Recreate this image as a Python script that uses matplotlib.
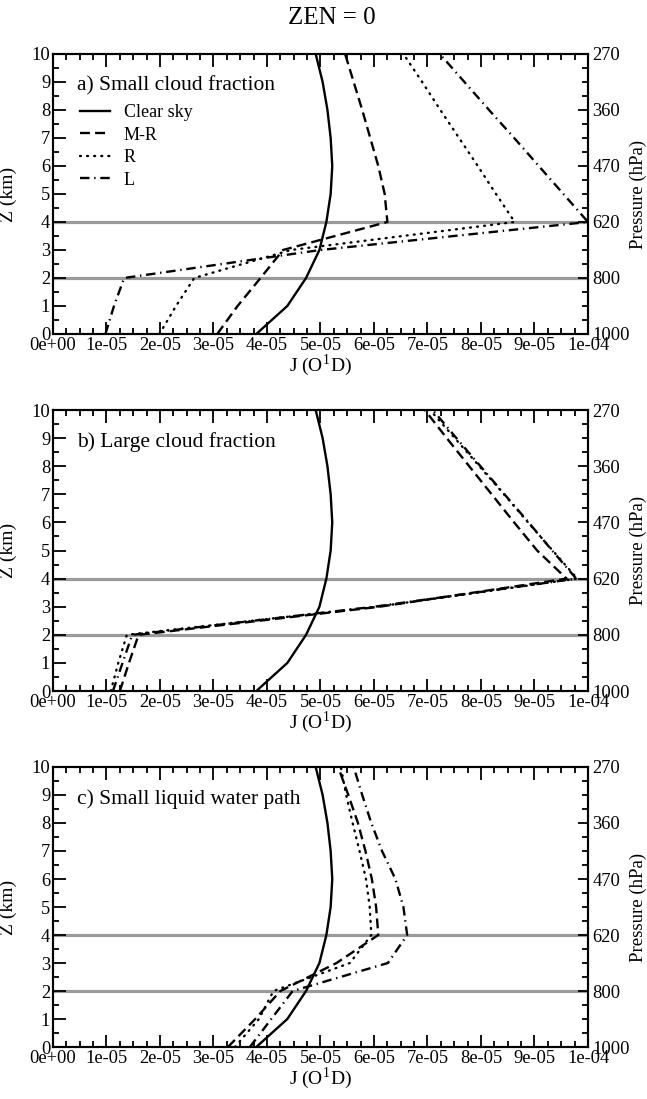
import numpy as np
import matplotlib.pyplot as plt
from matplotlib.ticker import MultipleLocator

plt.rcParams['font.family'] = ['Liberation Serif', 'DejaVu Serif']
plt.rcParams['mathtext.fontset'] = 'stix'

# altitude grid (km) and pressure labels for the right axis
z = [0, 1, 2, 3, 4, 5, 6, 7, 8, 9, 10]
p_z = [10, 8, 6, 4, 2, 0]
p_labels = ['270', '360', '470', '620', '800', '1000']
x_ticks = [0, 1e-5, 2e-5, 3e-5, 4e-5, 5e-5, 6e-5, 7e-5, 8e-5, 9e-5, 1e-4]
x_labels = ['0e+00', '1e-05', '2e-05', '3e-05', '4e-05', '5e-05',
            '6e-05', '7e-05', '8e-05', '9e-05', '1e-04']

# J(O1D) in units of 1e-5 s-1
clear = [3.80, 4.38, 4.73, 4.98, 5.11, 5.19, 5.22, 5.19, 5.13, 5.04, 4.91]

# a) small cloud fraction
a_mr = [3.07, 3.45, 3.88, 4.30, 6.25, 6.20, 6.08, 5.93, 5.78, 5.62, 5.46]
a_r = [1.99, 2.30, 2.64, 4.45, 8.63, 8.28, 7.94, 7.59, 7.24, 6.90, 6.55]
a_l = [0.98, 1.14, 1.33, 5.00, 10.0, 9.54, 9.08, 8.62, 8.15, 7.69, 7.23]

# b) large cloud fraction
b_mr = [1.25, 1.42, 1.60, 6.10, 9.60, 9.05, 8.62, 8.20, 7.78, 7.36, 6.95]
b_r = [1.08, 1.22, 1.38, 6.05, 9.80, 9.34, 8.88, 8.43, 7.97, 7.51, 7.05]
b_l = [1.12, 1.30, 1.48, 6.00, 9.78, 9.33, 8.89, 8.44, 7.99, 7.54, 7.10]

# c) small liquid water path
c_mr = [3.27, 3.78, 4.25, 5.30, 6.08, 6.04, 5.96, 5.84, 5.70, 5.52, 5.33]
c_r = [3.40, 3.85, 4.12, 5.55, 5.95, 5.92, 5.85, 5.73, 5.60, 5.48, 5.38]
c_l = [3.68, 4.08, 4.48, 6.26, 6.62, 6.55, 6.40, 6.15, 5.95, 5.78, 5.62]

panels = [
    ('a) Small cloud fraction', a_mr, a_r, a_l),
    ('b) Large cloud fraction', b_mr, b_r, b_l),
    ('c) Small liquid water path', c_mr, c_r, c_l),
]
# axes positions in figure fraction: (bottom, top)
rows = [(0.6961, 0.9509), (0.3712, 0.6269), (0.0473, 0.3021)]

fig = plt.figure(figsize=(6.47, 10.99), dpi=100)
fig.text(0.513, 1 - 18 / 1099, 'ZEN = 0', ha='center', va='center', size=18)

lw = 1.7
for i, (title, mr, r, l) in enumerate(panels):
    b, t = rows[i]
    ax = fig.add_axes([0.0819, b, 0.9088 - 0.0819, t - b])
    for zz in [2, 4]:
        ax.axhline(zz, color='#9a9a9a', lw=2.3, zorder=1)
    s = 1e-5
    ax.plot(np.array(clear) * s, z, color='k', lw=lw, label='Clear sky')
    ax.plot(np.array(mr) * s, z, color='k', lw=lw, dashes=(4.2, 2.2), label='M-R')
    ax.plot(np.array(r) * s, z, color='k', lw=lw, dashes=(0.4, 2.6),
            dash_capstyle='round', label='R')
    ax.plot(np.array(l) * s, z, color='k', lw=lw, dashes=(4, 2, 0.6, 2), label='L')

    ax.set_xlim(0, 1e-4)
    ax.set_ylim(0, 10)
    ax.set_xticks(x_ticks)
    ax.set_xticklabels(x_labels)
    ax.xaxis.set_minor_locator(MultipleLocator(2.5e-6))
    ax.set_yticks(range(11))
    ax.yaxis.set_minor_locator(MultipleLocator(0.5))
    ax.tick_params(which='both', direction='in', top=True, right=False,
                   labelsize=13.3, width=1.3)
    ax.tick_params(which='major', length=9, pad=2)
    ax.tick_params(which='minor', length=4.5)
    for sp in ax.spines.values():
        sp.set_linewidth(1.5)
    ax.set_ylabel('Z (km)', size=14)
    ax.yaxis.set_label_coords(-0.068, 0.5)
    ax.set_xlabel('J (O$^{\\mathregular{1}}$D)', size=14, labelpad=-1)
    ax.text(0.45e-5, 8.85, title, size=15.5, ha='left', va='center')
    if i == 0:
        ax.legend(loc='upper left', bbox_to_anchor=(0.05, 0.82), frameon=False,
                  fontsize=13, handlelength=1.65, handletextpad=0.8,
                  labelspacing=0.3, borderpad=0, borderaxespad=0)

    ax2 = ax.twinx()
    ax2.set_ylim(0, 10)
    ax2.set_yticks(p_z)
    ax2.set_yticklabels(p_labels)
    ax2.yaxis.set_minor_locator(MultipleLocator(0.5))
    ax2.tick_params(which='both', direction='in', labelsize=13.3, width=1.3)
    ax2.tick_params(which='major', length=7, pad=3)
    ax2.tick_params(which='minor', length=4.5)
    ax2.set_ylabel('Pressure (hPa)', size=13.5)
    ax2.yaxis.set_label_coords(1.078, 0.5)
    for sp in ax2.spines.values():
        sp.set_linewidth(1.5)

fig.savefig('out.png', dpi=100)
